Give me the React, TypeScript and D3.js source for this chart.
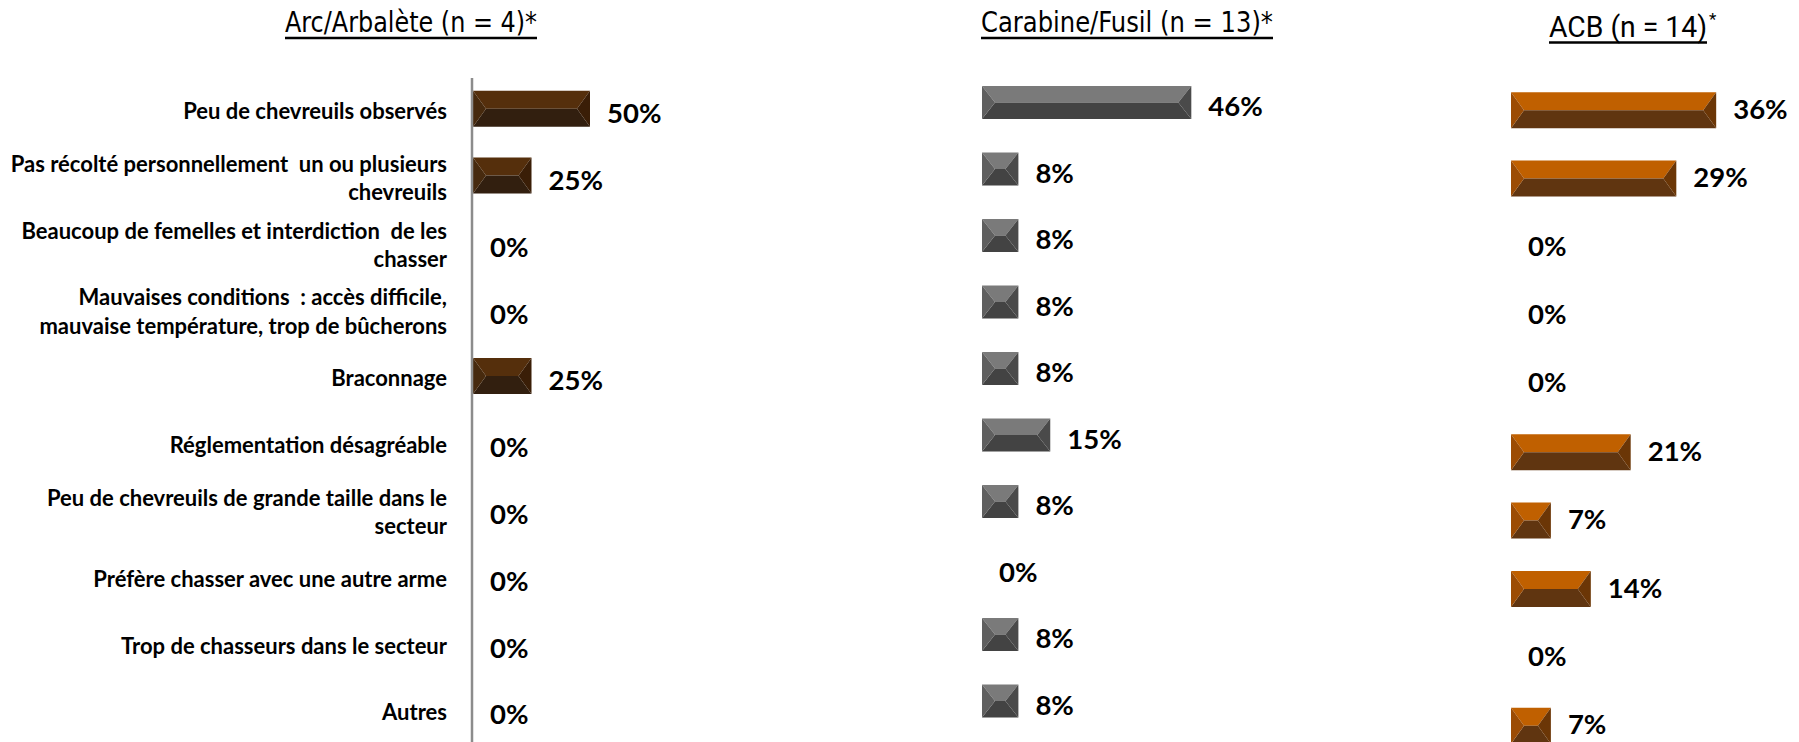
import React from "react";
import * as d3 from "d3";

// ---------- DATA ----------
const categoryLines: string[][] = [
  ["Peu de chevreuils observés"],
  ["Pas récolté personnellement  un ou plusieurs", "chevreuils"],
  ["Beaucoup de femelles et interdiction  de les", "chasser"],
  ["Mauvaises conditions  : accès difficile,", "mauvaise température, trop de bûcherons"],
  ["Braconnage"],
  ["Réglementation désagréable"],
  ["Peu de chevreuils de grande taille dans le", "secteur"],
  ["Préfère chasser avec une autre arme"],
  ["Trop de chasseurs dans le secteur"],
  ["Autres"],
];
const categories = categoryLines.map((l) => l.join(" "));

const arcValues = [50, 25, 0, 0, 25, 0, 0, 0, 0, 0];
const carabineValues = [46, 8, 8, 8, 8, 15, 8, 0, 8, 8];
const acbValues = [36, 29, 0, 0, 0, 21, 7, 14, 0, 7];

const panelTitles = ["Arc/Arbalète (n = 4)*", "Carabine/Fusil (n = 13)*", "ACB (n = 14)"];

// ---------- STYLE / LAYOUT ----------
const W = 1799;
const H = 742;
const labelFont = "Lato, 'Open Sans', 'DejaVu Sans', sans-serif";
const titleFont = "'Liberation Sans Narrow', 'Arial Narrow', 'DejaVu Sans Condensed', 'Liberation Sans', sans-serif";

type Panel = {
  values: number[];
  title: string;
  x0: number;
  pxPerPct: number;
  top: number;
  step: number;
  barH: number;
  colors: { top: string; bottom: string; left: string; right: string };
  titleX: number;
  titleW: number;
  titleY: number;
  underlineY: number;
  titleFontFamily: string;
  valueDy: number;
  superStar?: boolean;
};

const panels: Panel[] = [
  {
    values: arcValues,
    title: panelTitles[0],
    x0: 473,
    pxPerPct: 2.34,
    top: 75.3,
    step: 66.8,
    barH: 36,
    colors: { top: "#552f0c", bottom: "#321f0f", left: "#472a0e", right: "#3a1e07" },
    titleX: 285,
    titleW: 252,
    titleY: 32,
    underlineY: 38,
    titleFontFamily: titleFont,
    valueDy: 4,
  },
  {
    values: carabineValues,
    title: panelTitles[1],
    x0: 982,
    pxPerPct: 4.55,
    top: 69.25,
    step: 66.5,
    barH: 33,
    colors: { top: "#7a7a7a", bottom: "#434343", left: "#5f5f5f", right: "#4a4a4a" },
    titleX: 981,
    titleW: 292,
    titleY: 32,
    underlineY: 38,
    titleFontFamily: titleFont,
    valueDy: 3,
  },
  {
    values: acbValues,
    title: panelTitles[2],
    x0: 1511,
    pxPerPct: 5.7,
    top: 76,
    step: 68.4,
    barH: 36,
    colors: { top: "#c06000", bottom: "#603510", left: "#9c4c04", right: "#6b3606" },
    titleX: 1549,
    titleW: 158,
    titleY: 36.5,
    underlineY: 42.5,
    titleFontFamily: "Roboto, 'Liberation Sans', sans-serif",
    valueDy: -2,
    superStar: true,
  },
];

function BevelBar({ x, y, w, h, colors }: { x: number; y: number; w: number; h: number; colors: Panel["colors"] }) {
  if (w <= 0) return null;
  const i = Math.min(13, w / 2);
  const m = y + h / 2;
  const p = (pts: number[][]) => pts.map((q) => q.join(",")).join(" ");
  return (
    <g>
      <polygon points={p([[x, y], [x + w, y], [x + w - i, m], [x + i, m]])} fill={colors.top} />
      <polygon points={p([[x, y + h], [x + w, y + h], [x + w - i, m], [x + i, m]])} fill={colors.bottom} />
      <polygon points={p([[x, y], [x + i, m], [x, y + h]])} fill={colors.left} />
      <polygon points={p([[x + w, y], [x + w - i, m], [x + w, y + h]])} fill={colors.right} />
    </g>
  );
}

function PanelView({ panel, showLabels }: { panel: Panel; showLabels: boolean }) {
  const n = categories.length;
  const pi = 1 - panel.barH / panel.step;
  const y = d3
    .scaleBand<string>()
    .domain(categories)
    .range([panel.top, panel.top + n * panel.step])
    .paddingInner(pi)
    .paddingOuter(pi / 2);
  const x = d3.scaleLinear().domain([0, 100]).range([panel.x0, panel.x0 + 100 * panel.pxPerPct]);

  return (
    <g>
      <text
        x={panel.titleX}
        y={panel.titleY}
        fontFamily={panel.titleFontFamily}
        fontSize={29}
        fill="#000"
        textLength={panel.titleW}
        lengthAdjust="spacingAndGlyphs"
      >
        {panel.title}
      </text>
      {panel.superStar && (
        <text x={panel.titleX + panel.titleW + 2} y={panel.titleY - 12} fontFamily={panel.titleFontFamily} fontSize={17} fill="#000">
          *
        </text>
      )}
      <line
        x1={panel.titleX}
        x2={panel.titleX + panel.titleW}
        y1={panel.underlineY}
        y2={panel.underlineY}
        stroke="#000"
        strokeWidth={2.6}
      />
      {categories.map((c, k) => {
        const v = panel.values[k];
        const by = y(c)!;
        const bh = y.bandwidth();
        const cy = by + bh / 2;
        return (
          <g key={c}>
            <BevelBar x={x(0)} y={by} w={x(v) - x(0)} h={bh} colors={panel.colors} />
            <text
              x={x(v) + 17}
              y={cy + panel.valueDy}
              dominantBaseline="central"
              fontFamily={labelFont}
              fontWeight={700}
              fontSize={27.5}
              fill="#000"
            >
              {`${v}%`}
            </text>
          </g>
        );
      })}
      {showLabels && (
        <g>
          <line x1={472} x2={472} y1={78} y2={H} stroke="#8c8c8c" strokeWidth={2.5} />
          {categoryLines.map((lines, k) => {
            const cy = y(categories[k])! + y.bandwidth() / 2;
            const lh = 28.5;
            return (
              <text
                key={k}
                textAnchor="end"
                fontFamily={labelFont}
                fontWeight={700}
                fontSize={22}
                fill="#000"
                style={{ whiteSpace: "pre" }}
              >
                {lines.map((ln, j) => (
                  <tspan key={j} x={447} y={cy + 2 + (j - (lines.length - 1) / 2) * lh} dominantBaseline="central">
                    {ln}
                  </tspan>
                ))}
              </text>
            );
          })}
        </g>
      )}
    </g>
  );
}

export default function App() {
  return (
    <svg
      width={W}
      height={H}
      viewBox={`0 0 ${W} ${H}`}
      style={{ position: "absolute", left: 0, top: 0, background: "#fff", display: "block" }}
    >
      <rect x={0} y={0} width={W} height={H} fill="#fff" />
      {panels.map((p, i) => (
        <PanelView key={i} panel={p} showLabels={i === 0} />
      ))}
    </svg>
  );
}
